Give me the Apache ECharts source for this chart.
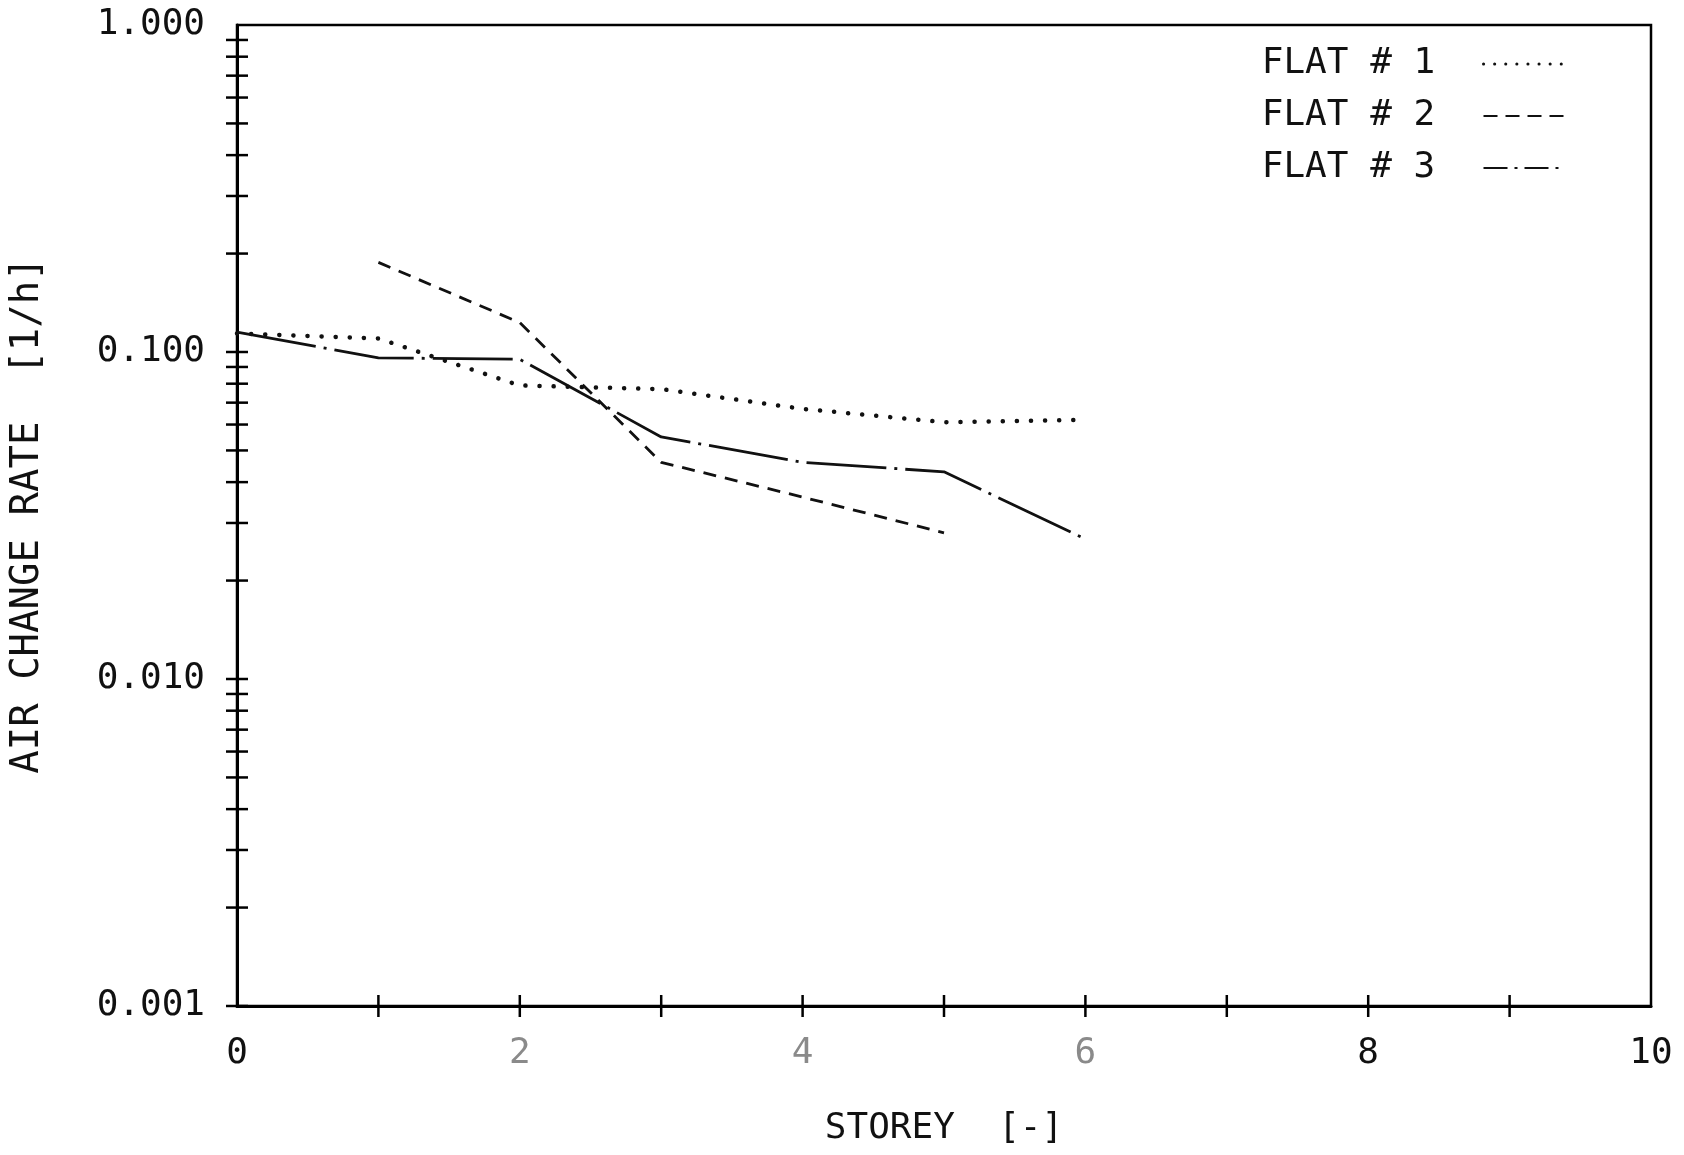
<!DOCTYPE html>
<html>
<head>
<meta charset="utf-8">
<script src="https://cdn.jsdelivr.net/npm/echarts@6/dist/echarts.min.js"></script>
<style>
  html, body { margin: 0; padding: 0; background: #fff; }
  #chart { width: 1684px; height: 1155px; }
</style>
</head>
<body>
<div id="chart"></div>
<script>
// storey numbers and air change rates
const storeys1 = [0, 1, 2, 3, 4, 5, 6];
const flat1 = [0.114, 0.110, 0.079, 0.077, 0.067, 0.061, 0.062];
const storeys2 = [1, 2, 3, 4, 5];
const flat2 = [0.188, 0.123, 0.046, 0.036, 0.028];
const storeys3 = [0, 1, 2, 3, 4, 5, 6];
const flat3 = [0.115, 0.096, 0.095, 0.055, 0.046, 0.043, 0.0268];

const seriesNames = ['FLAT # 1', 'FLAT # 2', 'FLAT # 3'];
// tick positions (plotter style, ticks crossing the axes)
const yTicks = [];
[0.001, 0.01, 0.1].forEach(d => {
  for (let m = 1; m <= 9; m++) yTicks.push(+(m * d).toPrecision(3));
});
const xTicks = [1, 2, 3, 4, 5, 6, 7, 8, 9];
const greyLabels = [2, 4, 6];

const font = 'DejaVu Sans Mono';
const dotted = [0.1, 14];
const dashed = [13, 9];
const dashDot = [80, 8, 3, 8];

function pairs(xs, ys) {
  return xs.map((x, i) => [x, ys[i]]);
}

const chart = echarts.init(document.getElementById('chart'));

const tickStyle = { stroke: '#000', lineWidth: 2.5 };

const option = {
  backgroundColor: '#fff',
  animation: false,
  grid: {
    left: 234, right: 33, top: 25, bottom: 149,
    show: true, borderColor: '#000', borderWidth: 2.5,
  },
  legend: {
    data: [
      { name: seriesNames[0], lineStyle: { type: [0.1, 11], width: 3, cap: 'round' } },
      { name: seriesNames[1], lineStyle: { type: [14, 8] } },
      { name: seriesNames[2], lineStyle: { type: [24, 7, 3, 7] } },
    ],
    orient: 'vertical',
    right: 112,
    top: 41,
    align: 'right',
    itemWidth: 82,
    itemHeight: 14,
    itemGap: 16,
    itemStyle: { opacity: 0 },
    formatter: n => n + '  ',
    textStyle: { fontFamily: font, fontSize: 36, color: '#111', lineHeight: 36 },
  },
  xAxis: {
    type: 'value',
    min: 0, max: 10, interval: 1,
    name: 'STOREY  [-]',
    nameLocation: 'middle',
    nameGap: 105,
    nameTextStyle: { fontFamily: font, fontSize: 36, color: '#111' },
    axisLine: { lineStyle: { color: '#000', width: 3 } },
    axisTick: { show: false },
    splitLine: { show: false },
    axisLabel: {
      margin: 30,
      fontFamily: font, fontSize: 36, color: '#111',
      formatter: v => {
        if (v % 2 !== 0) return '';
        return greyLabels.includes(v) ? '{g|' + v + '}' : String(v);
      },
      rich: { g: { fontFamily: font, fontSize: 36, color: '#8a8a8a' } },
    },
  },
  yAxis: {
    type: 'log',
    logBase: 10,
    min: 0.001, max: 1,
    name: 'AIR CHANGE RATE  [1/h]',
    nameLocation: 'middle',
    nameGap: 190,
    nameTextStyle: { fontFamily: font, fontSize: 39, color: '#111' },
    axisLine: { lineStyle: { color: '#000', width: 3 } },
    axisTick: { show: false },
    splitLine: { show: false },
    axisLabel: {
      margin: 32,
      fontFamily: font, fontSize: 36, color: '#111',
      formatter: v => v.toFixed(3),
    },
  },
  series: [
    {
      name: seriesNames[0], type: 'line', symbol: 'none',
      data: pairs(storeys1, flat1),
      lineStyle: { color: '#111', width: 4.5, type: dotted, cap: 'round' },
      itemStyle: { color: '#111' },
      z: 3,
    },
    {
      name: seriesNames[1], type: 'line', symbol: 'none',
      data: pairs(storeys2, flat2),
      lineStyle: { color: '#111', width: 2.8, type: dashed },
      itemStyle: { color: '#111' },
      z: 3,
    },
    {
      name: seriesNames[2], type: 'line', symbol: 'none',
      data: pairs(storeys3, flat3),
      lineStyle: { color: '#111', width: 2.8, type: dashDot },
      itemStyle: { color: '#111' },
      z: 3,
    },
    {
      type: 'custom', silent: true, clip: false, z: 4,
      data: yTicks.map(v => [0, v]),
      encode: { x: 0, y: 1 },
      renderItem: (params, api) => {
        const p = api.coord([0, api.value(1)]);
        return { type: 'line', shape: { x1: p[0] - 11, y1: p[1], x2: p[0] + 11, y2: p[1] }, style: tickStyle };
      },
    },
    {
      type: 'custom', silent: true, clip: false, z: 4,
      data: xTicks.map(v => [v, 0.001]),
      encode: { x: 0, y: 1 },
      renderItem: (params, api) => {
        const p = api.coord([api.value(0), 0.001]);
        return { type: 'line', shape: { x1: p[0], y1: p[1] - 11, x2: p[0], y2: p[1] + 11 }, style: tickStyle };
      },
    },
  ],
};

chart.setOption(option);
</script>
</body>
</html>
